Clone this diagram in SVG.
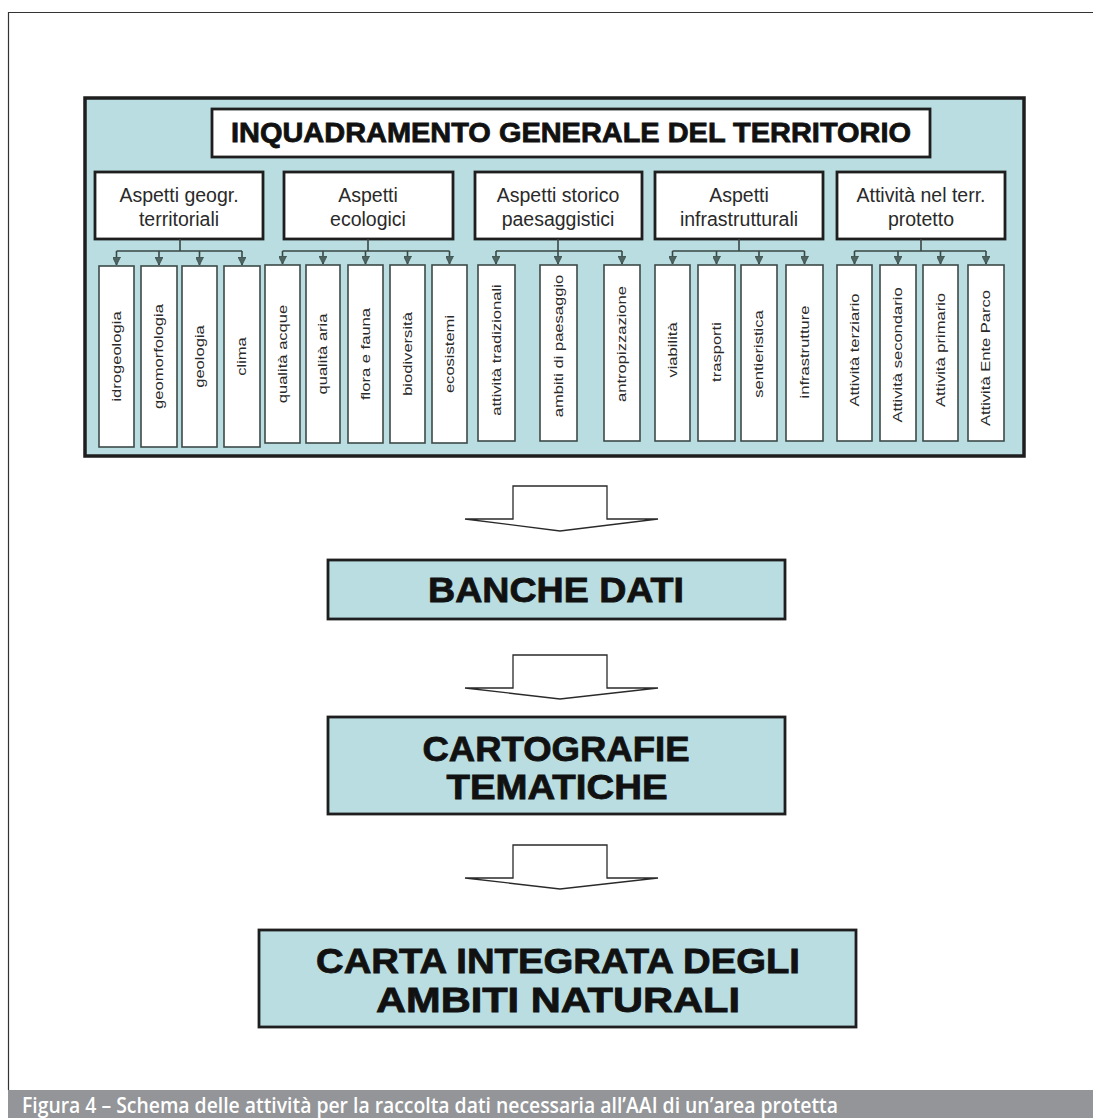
<svg xmlns="http://www.w3.org/2000/svg" width="1093" height="1118" viewBox="0 0 1093 1118">
<defs>
<marker id="ah" markerWidth="8" markerHeight="8" refX="8" refY="4" orient="auto" markerUnits="userSpaceOnUse" viewBox="0 0 8 8">
<path d="M0,0 L8,4 L0,8 Z" fill="#4d6461" stroke="#3a4a48" stroke-width="0.8"/>
</marker>
</defs>
<style>
.panel{fill:#b9dde0;stroke:#1e1e1e;stroke-width:3.5}
.title{fill:#fff;stroke:#1e1e1e;stroke-width:2.8}
.cat{fill:#fff;stroke:#1e1e1e;stroke-width:2.8}
.leaf{fill:#fff;stroke:#3d4a48;stroke-width:1.6}
.big{fill:#b9dde0;stroke:#1e1e1e;stroke-width:2.8}
.conn{fill:none;stroke:#3a4745;stroke-width:1.6}
.barrow{fill:#fff;stroke:#2a2a2a;stroke-width:1.3;stroke-linejoin:miter}
.tt{font-family:"Liberation Sans",Arial,sans-serif;font-weight:bold;fill:#111;text-anchor:middle;stroke:#111;stroke-width:0.8}
.ct{font-family:"Liberation Sans",Arial,sans-serif;font-size:19.5px;fill:#2a2a2a;text-anchor:middle}
.lt{font-family:"Liberation Sans",Arial,sans-serif;font-size:12px;fill:#2a2a2a;text-anchor:middle}
.cap{font-family:"Open Sans","Liberation Sans",sans-serif;font-weight:600;font-size:21px;fill:#fff}
</style>
<rect x="0" y="0" width="1093" height="1118" fill="#fff"/>
<path d="M8.5,1090 V12.5 H1093" fill="none" stroke="#333" stroke-width="1.2"/>
<g id="caption">
<rect x="8" y="1090" width="1085" height="28" fill="#939598"/>
<text class="cap" x="22" y="1113" textLength="816" lengthAdjust="spacingAndGlyphs">Figura 4 – Schema delle attività per la raccolta dati necessaria all’AAI di un’area protetta</text>
</g>
<g id="panel">
<rect class="panel" x="85" y="98" width="939" height="358"/>
</g>
<g id="title">
<rect class="title" x="212" y="109" width="718" height="48"/>
<text class="tt" x="571" y="142" font-size="28" textLength="680" lengthAdjust="spacingAndGlyphs">INQUADRAMENTO GENERALE DEL TERRITORIO</text>
</g>
<g id="cat1"><rect class="cat" x="95" y="172" width="168" height="67"/><text class="ct" x="179" y="202">Aspetti geogr.</text><text class="ct" x="179" y="226">territoriali</text></g>
<g id="cat2"><rect class="cat" x="284" y="172" width="169" height="67"/><text class="ct" x="368" y="202">Aspetti</text><text class="ct" x="368" y="226">ecologici</text></g>
<g id="cat3"><rect class="cat" x="475" y="172" width="167" height="67"/><text class="ct" x="558" y="202">Aspetti storico</text><text class="ct" x="558" y="226">paesaggistici</text></g>
<g id="cat4"><rect class="cat" x="655" y="172" width="168" height="67"/><text class="ct" x="739" y="202">Aspetti</text><text class="ct" x="739" y="226">infrastrutturali</text></g>
<g id="cat5"><rect class="cat" x="837" y="172" width="168" height="67"/><text class="ct" x="921" y="202">Attività nel terr.</text><text class="ct" x="921" y="226">protetto</text></g>
<g id="connectors">
<path class="conn" d="M180,239 V251 M116.5,251 H242"/>
<path class="conn" d="M116.5,251 V265" marker-end="url(#ah)"/>
<path class="conn" d="M159,251 V265" marker-end="url(#ah)"/>
<path class="conn" d="M199.5,251 V265" marker-end="url(#ah)"/>
<path class="conn" d="M242,251 V265" marker-end="url(#ah)"/>
<path class="conn" d="M368,239 V251 M282.5,251 H449.5"/>
<path class="conn" d="M282.5,251 V264" marker-end="url(#ah)"/>
<path class="conn" d="M323,251 V264" marker-end="url(#ah)"/>
<path class="conn" d="M365.5,251 V264" marker-end="url(#ah)"/>
<path class="conn" d="M407.5,251 V264" marker-end="url(#ah)"/>
<path class="conn" d="M449.5,251 V264" marker-end="url(#ah)"/>
<path class="conn" d="M558,239 V251 M496,251 H622"/>
<path class="conn" d="M496,251 V264" marker-end="url(#ah)"/>
<path class="conn" d="M558,251 V264" marker-end="url(#ah)"/>
<path class="conn" d="M622,251 V264" marker-end="url(#ah)"/>
<path class="conn" d="M739,239 V251 M672.5,251 H804.5"/>
<path class="conn" d="M672.5,251 V264" marker-end="url(#ah)"/>
<path class="conn" d="M716.5,251 V264" marker-end="url(#ah)"/>
<path class="conn" d="M759,251 V264" marker-end="url(#ah)"/>
<path class="conn" d="M804.5,251 V264" marker-end="url(#ah)"/>
<path class="conn" d="M921,239 V251 M854.5,251 H986"/>
<path class="conn" d="M854.5,251 V264" marker-end="url(#ah)"/>
<path class="conn" d="M898,251 V264" marker-end="url(#ah)"/>
<path class="conn" d="M940.5,251 V264" marker-end="url(#ah)"/>
<path class="conn" d="M986,251 V264" marker-end="url(#ah)"/>
</g>
<g id="leaf-idrogeologia"><rect class="leaf" x="99" y="266" width="35" height="181"/><text class="lt" transform="translate(116.5,356.5) rotate(-90) scale(1.38,1)" y="4">idrogeologia</text></g>
<g id="leaf-geomorfologia"><rect class="leaf" x="141" y="266" width="36" height="181"/><text class="lt" transform="translate(159,356.5) rotate(-90) scale(1.38,1)" y="4">geomorfologia</text></g>
<g id="leaf-geologia"><rect class="leaf" x="182" y="266" width="35" height="181"/><text class="lt" transform="translate(199.5,356.5) rotate(-90) scale(1.38,1)" y="4">geologia</text></g>
<g id="leaf-clima"><rect class="leaf" x="224" y="266" width="36" height="181"/><text class="lt" transform="translate(242,356.5) rotate(-90) scale(1.38,1)" y="4">clima</text></g>
<g id="leaf-qualita-acque"><rect class="leaf" x="265" y="265" width="35" height="178"/><text class="lt" transform="translate(282.5,354) rotate(-90) scale(1.38,1)" y="4">qualità acque</text></g>
<g id="leaf-qualita-aria"><rect class="leaf" x="306" y="265" width="34" height="178"/><text class="lt" transform="translate(323,354) rotate(-90) scale(1.38,1)" y="4">qualità aria</text></g>
<g id="leaf-flora"><rect class="leaf" x="348" y="265" width="35" height="178"/><text class="lt" transform="translate(365.5,354) rotate(-90) scale(1.38,1)" y="4">flora e fauna</text></g>
<g id="leaf-biodiversita"><rect class="leaf" x="390" y="265" width="35" height="178"/><text class="lt" transform="translate(407.5,354) rotate(-90) scale(1.38,1)" y="4">biodiversità</text></g>
<g id="leaf-ecosistemi"><rect class="leaf" x="432" y="265" width="35" height="178"/><text class="lt" transform="translate(449.5,354) rotate(-90) scale(1.38,1)" y="4">ecosistemi</text></g>
<g id="leaf-attivita-tradizionali"><rect class="leaf" x="478" y="265" width="37" height="176"/><text class="lt" transform="translate(496.5,350) rotate(-90) scale(1.38,1)" y="4">attività tradizionali</text></g>
<g id="leaf-ambiti"><rect class="leaf" x="540" y="265" width="37" height="176"/><text class="lt" transform="translate(558.5,346) rotate(-90) scale(1.38,1)" y="4">ambiti di paesaggio</text></g>
<g id="leaf-antropizzazione"><rect class="leaf" x="604" y="265" width="36" height="176"/><text class="lt" transform="translate(622,344) rotate(-90) scale(1.38,1)" y="4">antropizzazione</text></g>
<g id="leaf-viabilita"><rect class="leaf" x="655" y="265" width="35" height="176"/><text class="lt" transform="translate(672.5,350) rotate(-90) scale(1.38,1)" y="4">viabilità</text></g>
<g id="leaf-trasporti"><rect class="leaf" x="698" y="265" width="37" height="176"/><text class="lt" transform="translate(716.5,352) rotate(-90) scale(1.38,1)" y="4">trasporti</text></g>
<g id="leaf-sentieristica"><rect class="leaf" x="741" y="265" width="36" height="176"/><text class="lt" transform="translate(759,354) rotate(-90) scale(1.38,1)" y="4">sentieristica</text></g>
<g id="leaf-infrastrutture"><rect class="leaf" x="786" y="265" width="37" height="176"/><text class="lt" transform="translate(804.5,352) rotate(-90) scale(1.38,1)" y="4">infrastrutture</text></g>
<g id="leaf-terziario"><rect class="leaf" x="837" y="265" width="35" height="176"/><text class="lt" transform="translate(854.5,350) rotate(-90) scale(1.38,1)" y="4">Attività terziario</text></g>
<g id="leaf-secondario"><rect class="leaf" x="880" y="265" width="36" height="176"/><text class="lt" transform="translate(898,355) rotate(-90) scale(1.38,1)" y="4">Attività secondario</text></g>
<g id="leaf-primario"><rect class="leaf" x="923" y="265" width="35" height="176"/><text class="lt" transform="translate(940.5,350) rotate(-90) scale(1.38,1)" y="4">Attività primario</text></g>
<g id="leaf-ente-parco"><rect class="leaf" x="968" y="265" width="36" height="176"/><text class="lt" transform="translate(986,358) rotate(-90) scale(1.38,1)" y="4">Attività Ente Parco</text></g>
<g id="flow-arrows">
<path class="barrow" d="M465,519 L513,519 L513,486 L607,486 L607,519 L658,519 L560,531 Z"/>
<path class="barrow" d="M465,688 L513,688 L513,655 L607,655 L607,688 L658,688 L560,699 Z"/>
<path class="barrow" d="M465,878 L513,878 L513,845 L607,845 L607,878 L658,878 L560,889 Z"/>
</g>
<g id="banche-dati">
<rect class="big" x="328" y="560" width="457" height="59"/>
<text class="tt" x="556" y="602" font-size="35" textLength="256" lengthAdjust="spacingAndGlyphs">BANCHE DATI</text>
</g>
<g id="cartografie">
<rect class="big" x="328" y="717" width="457" height="97"/>
<text class="tt" x="556" y="761" font-size="35" textLength="267" lengthAdjust="spacingAndGlyphs">CARTOGRAFIE</text>
<text class="tt" x="557" y="799" font-size="35" textLength="221" lengthAdjust="spacingAndGlyphs">TEMATICHE</text>
</g>
<g id="carta-integrata">
<rect class="big" x="259" y="930" width="597" height="97"/>
<text class="tt" x="558" y="973" font-size="35" textLength="484" lengthAdjust="spacingAndGlyphs">CARTA INTEGRATA DEGLI</text>
<text class="tt" x="558" y="1012" font-size="35" textLength="364" lengthAdjust="spacingAndGlyphs">AMBITI  NATURALI</text>
</g>
</svg>
